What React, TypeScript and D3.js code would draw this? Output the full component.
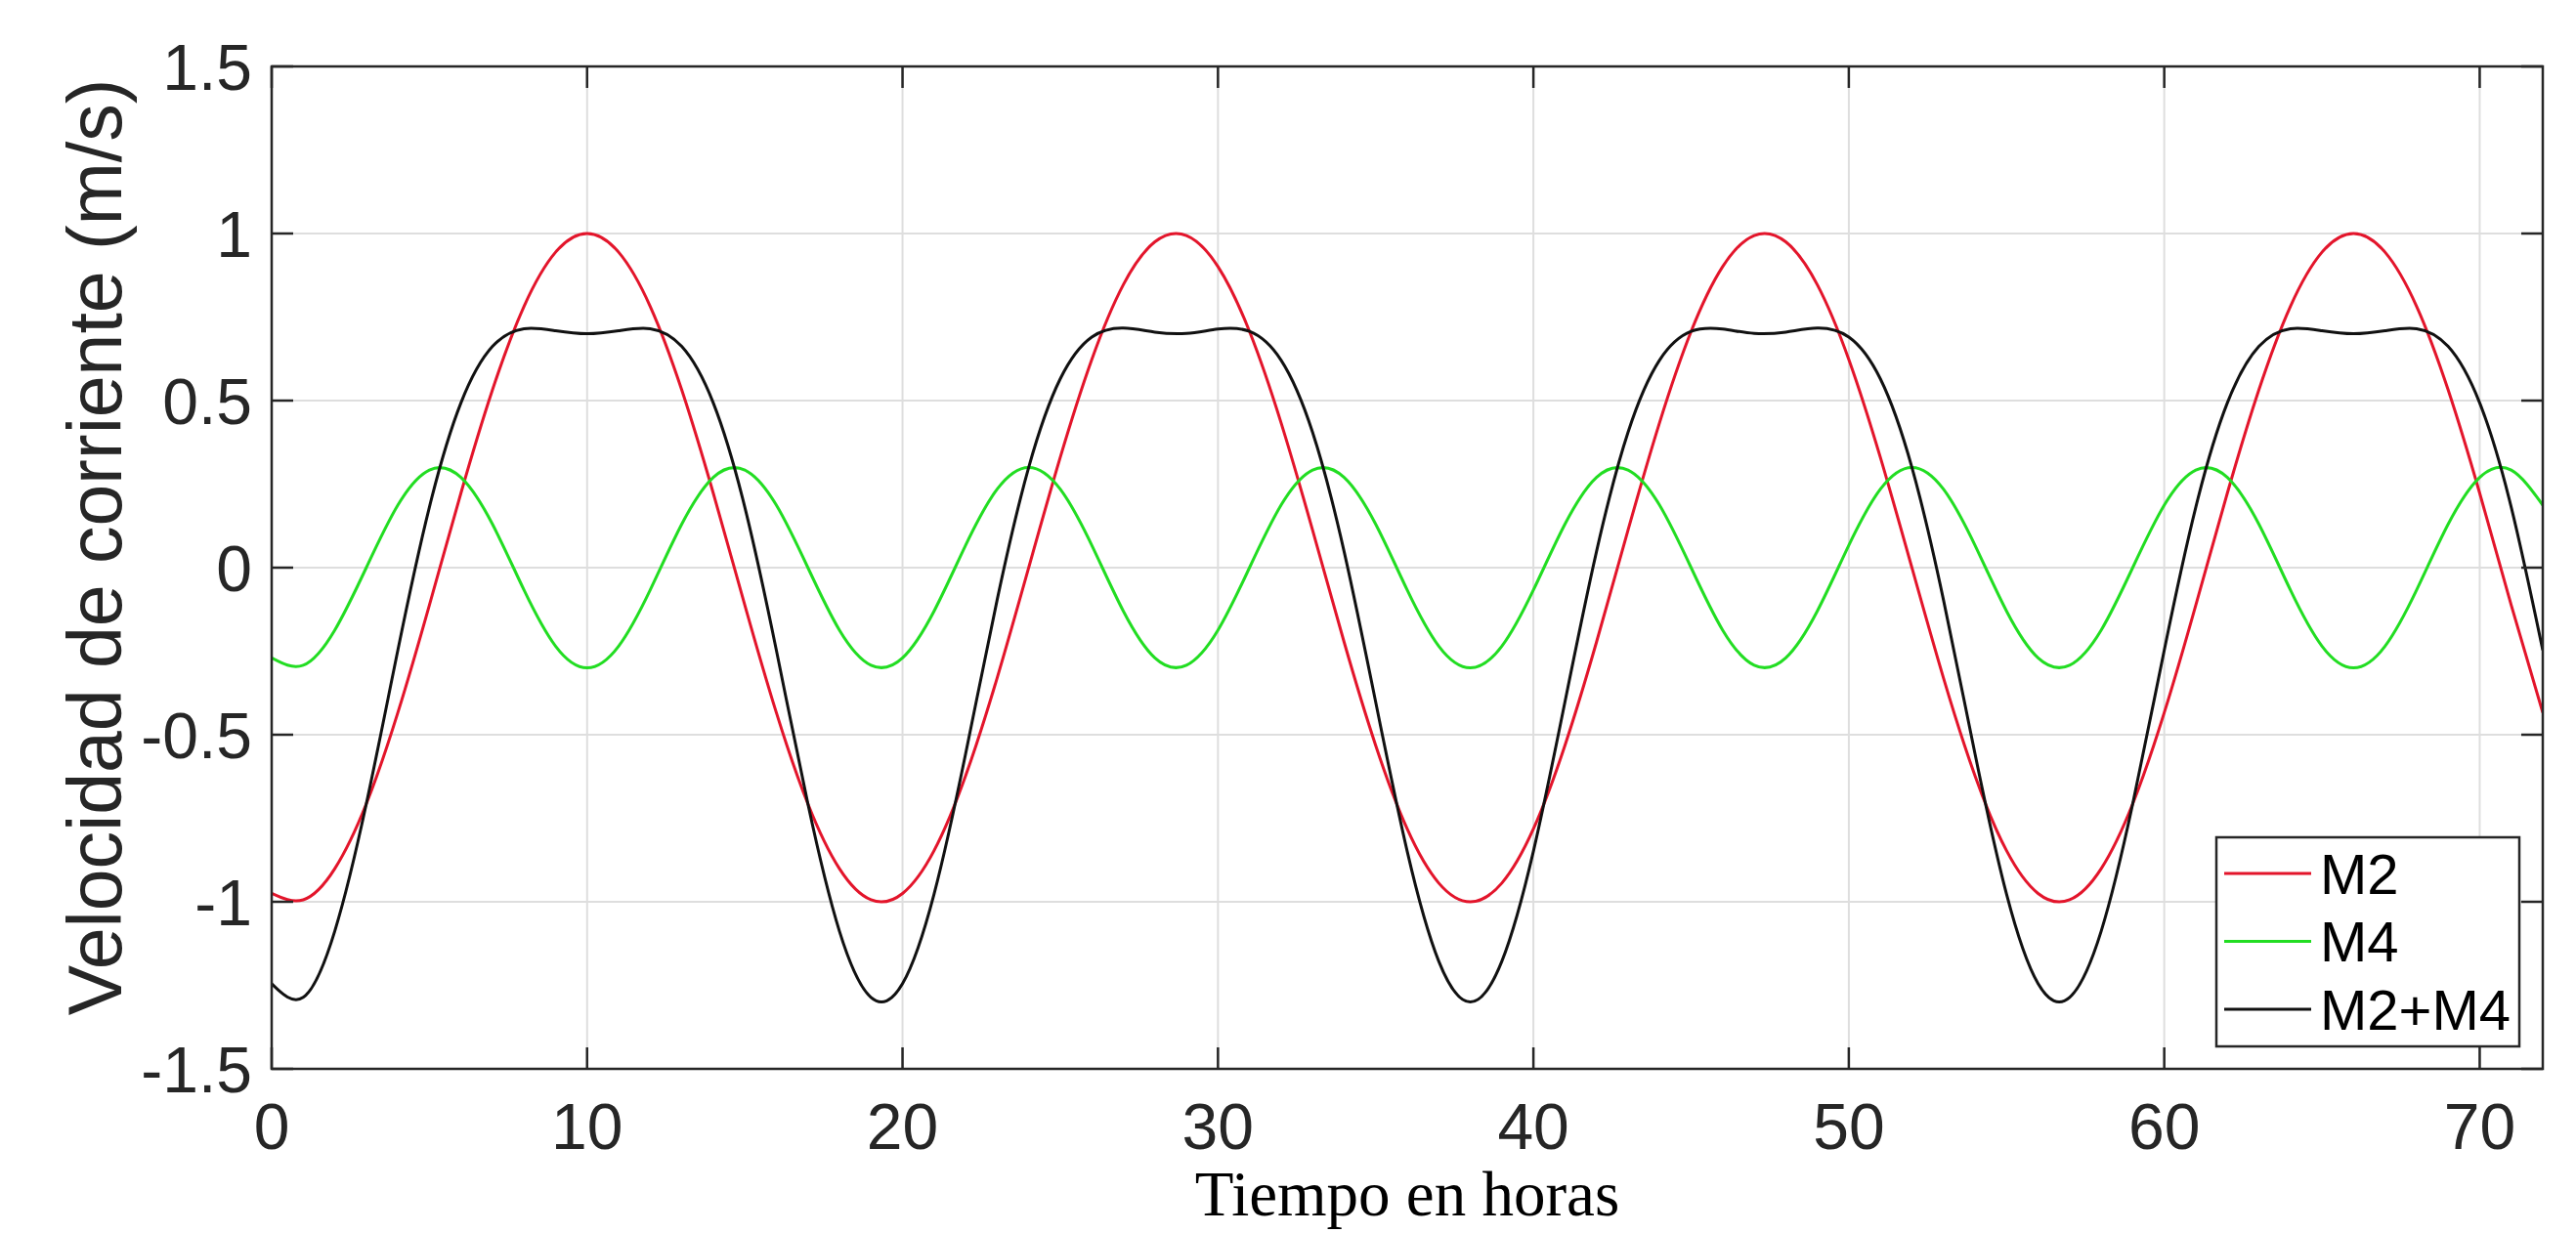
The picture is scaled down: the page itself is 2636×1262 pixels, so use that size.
import React from "react";
import * as d3 from "d3";

// time axis, one sample per hour
const HOURS = [
  0, 1, 2, 3, 4, 5, 6, 7, 8, 9, 10, 11, 12, 13, 14, 15, 16, 17, 18, 19, 20, 21, 22, 23, 24,
  25, 26, 27, 28, 29, 30, 31, 32, 33, 34, 35, 36, 37, 38, 39, 40, 41, 42, 43, 44, 45, 46, 47, 48,
  49, 50, 51, 52, 53, 54, 55, 56, 57, 58, 59, 60, 61, 62, 63, 64, 65, 66, 67, 68, 69, 70, 71, 72
];

// current speed (m/s)
const M2 = [
  -0.975, -0.994, -0.901, -0.707, -0.434, -0.112, 0.223, 0.532, 0.782, 0.944, 1.0,
  0.944, 0.782, 0.532, 0.223, -0.112, -0.434, -0.707, -0.901, -0.994, -0.975, -0.847, -0.623,
  -0.33, 0.0, 0.33, 0.623, 0.847, 0.975, 0.994, 0.901, 0.707, 0.434, 0.112, -0.223, -0.532,
  -0.782, -0.944, -1.0,
  -0.944, -0.782, -0.532, -0.223, 0.112, 0.434, 0.707, 0.901, 0.994, 0.975, 0.847, 0.623, 0.33,
  0.0, -0.33, -0.623, -0.847, -0.975, -0.994, -0.901, -0.707, -0.434, -0.112, 0.223, 0.532,
  0.782, 0.944, 1.0,
  0.944, 0.782, 0.532, 0.223, -0.112, -0.434
];

const M4 = [
  -0.27, -0.292, -0.187, 0.0, 0.187, 0.292, 0.27, 0.13, -0.067, -0.235, -0.3,
  -0.235, -0.067, 0.13, 0.27, 0.292, 0.187, 0.0, -0.187, -0.292, -0.27, -0.13, 0.067, 0.235,
  0.3, 0.235, 0.067, -0.13, -0.27, -0.292, -0.187, 0.0, 0.187, 0.292, 0.27, 0.13, -0.067,
  -0.235, -0.3,
  -0.235, -0.067, 0.13, 0.27, 0.292, 0.187, 0.0, -0.187, -0.292, -0.27, -0.13, 0.067, 0.235,
  0.3, 0.235, 0.067, -0.13, -0.27, -0.292, -0.187, 0.0, 0.187, 0.292, 0.27, 0.13, -0.067,
  -0.235, -0.3,
  -0.235, -0.067, 0.13, 0.27, 0.292, 0.187
];

const M2_M4 = [
  -1.245, -1.286, -1.088, -0.707, -0.247, 0.181, 0.493, 0.662, 0.715, 0.709, 0.7,
  0.709, 0.715, 0.662, 0.493, 0.181, -0.247, -0.707, -1.088, -1.286, -1.245, -0.977, -0.557,
  -0.096, 0.3, 0.565, 0.69, 0.717, 0.705, 0.701, 0.714, 0.707, 0.621, 0.405, 0.048, -0.402,
  -0.849, -1.178, -1.3,
  -1.178, -0.849, -0.402, 0.048, 0.405, 0.621, 0.707, 0.714, 0.701, 0.705, 0.717, 0.69, 0.565,
  0.3, -0.096, -0.557, -0.977, -1.245, -1.286, -1.088, -0.707, -0.247, 0.181, 0.493, 0.662,
  0.715, 0.709, 0.7,
  0.709, 0.715, 0.662, 0.493, 0.181, -0.247
];

const SERIES_NAMES = ["M2", "M4", "M2+M4"];
const SERIES_COLORS = ["#e3152b", "#22dd22", "#111111"];

const X_TICKS = [0, 10, 20, 30, 40, 50, 60, 70];
const Y_TICKS = [-1.5, -1, -0.5, 0, 0.5, 1, 1.5];

const X_LABEL = "Tiempo en horas";
const Y_LABEL = "Velocidad de corriente (m/s)";

const SANS = "'Liberation Sans', Arial, Helvetica, sans-serif";
const SERIF = "'Liberation Serif', 'Times New Roman', serif";

const W = 2636,
  H = 1262;
const box = { left: 278, right: 2602, top: 68, bottom: 1094 };
const TICK = 22;

export default function App() {
  const x = d3.scaleLinear().domain([0, 72]).range([box.left, box.right]);
  const y = d3.scaleLinear().domain([-1.5, 1.5]).range([box.bottom, box.top]);

  const line = d3
    .line<number>()
    .x((_, i) => x(HOURS[i]))
    .y(d => y(d))
    .curve(d3.curveNatural);

  const series = [M2, M4, M2_M4];

  // legend placement
  const lg = { x: 2268, y: 857, w: 310, h: 214 };
  const rowH = 69.5;

  return (
    <svg
      width={W}
      height={H}
      style={{ position: "absolute", left: 0, top: 0, display: "block", background: "#fff" }}
    >
      <defs>
        <clipPath id="plot-clip">
          <rect x={box.left} y={box.top} width={box.right - box.left} height={box.bottom - box.top} />
        </clipPath>
      </defs>

      {/* grid */}
      <g stroke="#dedede" strokeWidth={2}>
        {X_TICKS.map(t => (
          <line key={"gx" + t} x1={x(t)} x2={x(t)} y1={box.top} y2={box.bottom} />
        ))}
        {Y_TICKS.map(t => (
          <line key={"gy" + t} x1={box.left} x2={box.right} y1={y(t)} y2={y(t)} />
        ))}
      </g>

      {/* curves */}
      <g clipPath="url(#plot-clip)" fill="none" strokeWidth={3}>
        {series.map((s, i) => (
          <path key={SERIES_NAMES[i]} d={line(s) || ""} stroke={SERIES_COLORS[i]} />
        ))}
      </g>

      {/* ticks, inside on all four sides */}
      <g stroke="#262626" strokeWidth={2.5}>
        {X_TICKS.map(t => (
          <g key={"tx" + t}>
            <line x1={x(t)} x2={x(t)} y1={box.bottom} y2={box.bottom - TICK} />
            <line x1={x(t)} x2={x(t)} y1={box.top} y2={box.top + TICK} />
          </g>
        ))}
        {Y_TICKS.map(t => (
          <g key={"ty" + t}>
            <line x1={box.left} x2={box.left + TICK} y1={y(t)} y2={y(t)} />
            <line x1={box.right} x2={box.right - TICK} y1={y(t)} y2={y(t)} />
          </g>
        ))}
      </g>

      {/* axes box */}
      <rect
        x={box.left}
        y={box.top}
        width={box.right - box.left}
        height={box.bottom - box.top}
        fill="none"
        stroke="#262626"
        strokeWidth={2.5}
      />

      {/* tick labels */}
      <g fontFamily={SANS} fontSize={66} fill="#262626">
        {X_TICKS.map(t => (
          <text key={"lx" + t} x={x(t)} y={1176} textAnchor="middle">
            {t}
          </text>
        ))}
        {Y_TICKS.map(t => (
          <text key={"ly" + t} x={box.left - 20} y={y(t)} dy="0.36em" textAnchor="end">
            {t}
          </text>
        ))}
      </g>

      {/* axis labels */}
      <text
        x={(box.left + box.right) / 2}
        y={1244}
        textAnchor="middle"
        fontFamily={SERIF}
        fontSize={65}
        fill="#000"
      >
        {X_LABEL}
      </text>
      <text
        transform="translate(124, 560) rotate(-90)"
        textAnchor="middle"
        fontFamily={SANS}
        fontSize={77}
        fill="#262626"
      >
        {Y_LABEL}
      </text>

      {/* legend */}
      <g>
        <rect x={lg.x} y={lg.y} width={lg.w} height={lg.h} fill="#fff" stroke="#262626" strokeWidth={2.5} />
        {SERIES_NAMES.map((name, i) => {
          const cy = lg.y + 37 + i * rowH;
          return (
            <g key={"lg" + name}>
              <line x1={lg.x + 8} x2={lg.x + 97} y1={cy} y2={cy} stroke={SERIES_COLORS[i]} strokeWidth={3} />
              <text x={lg.x + 106} y={cy} dy="0.36em" fontFamily={SANS} fontSize={58} fill="#000">
                {name}
              </text>
            </g>
          );
        })}
      </g>
    </svg>
  );
}
